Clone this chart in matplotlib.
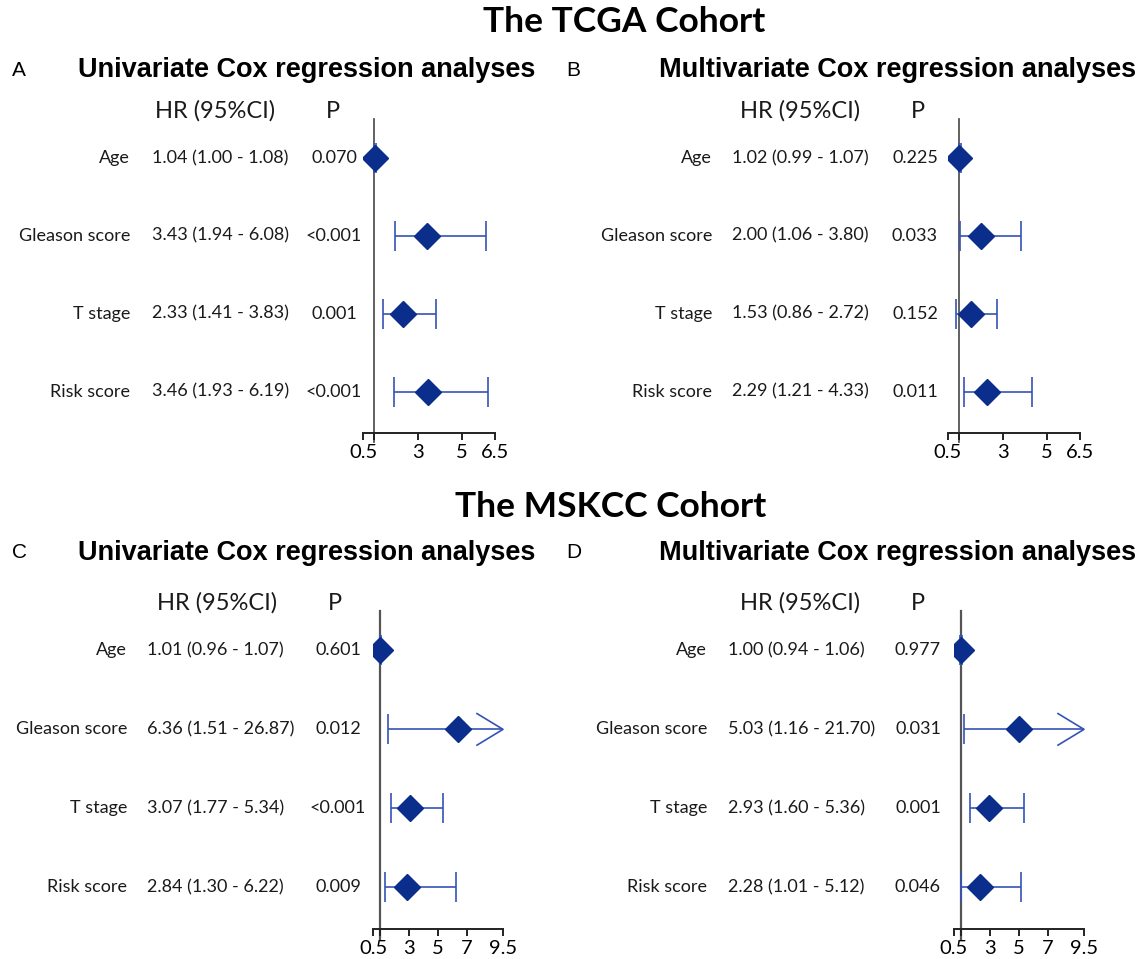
import matplotlib
matplotlib.use("Agg")
import matplotlib.pyplot as plt
from matplotlib import transforms

plt.rcParams['font.family'] = ['Lato', 'DejaVu Sans']

W, H = 1144, 959

variables = ["Age", "Gleason score", "T stage", "Risk score"]

# TCGA cohort
tcga_uni_hr = [1.04, 3.43, 2.33, 3.46]
tcga_uni_lo = [1.00, 1.94, 1.41, 1.93]
tcga_uni_hi = [1.08, 6.08, 3.83, 6.19]
tcga_uni_p = ["0.070", "<0.001", "0.001", "<0.001"]

tcga_multi_hr = [1.02, 2.00, 1.53, 2.29]
tcga_multi_lo = [0.99, 1.06, 0.86, 1.21]
tcga_multi_hi = [1.07, 3.80, 2.72, 4.33]
tcga_multi_p = ["0.225", "0.033", "0.152", "0.011"]

# MSKCC cohort
mskcc_uni_hr = [1.01, 6.36, 3.07, 2.84]
mskcc_uni_lo = [0.96, 1.51, 1.77, 1.30]
mskcc_uni_hi = [1.07, 26.87, 5.34, 6.22]
mskcc_uni_p = ["0.601", "0.012", "<0.001", "0.009"]

mskcc_multi_hr = [1.00, 5.03, 2.93, 2.28]
mskcc_multi_lo = [0.94, 1.16, 1.60, 1.01]
mskcc_multi_hi = [1.06, 21.70, 5.36, 5.12]
mskcc_multi_p = ["0.977", "0.031", "0.001", "0.046"]

tcga_ticks = [0.5, 1, 3, 5, 6.5]
tcga_ticklabels = ["0.5", "", "3", "5", "6.5"]
mskcc_ticks = [0.5, 1, 3, 5, 7, 9.5]
mskcc_ticklabels = ["0.5", "", "3", "5", "7", "9.5"]

NAVY = "#0b2d8b"
BLUE = "#3553b5"
SANS = ["Liberation Sans", "DejaVu Sans"]


def px(x):
    return x / W


def forest(fig, box, hr, lo, hi, pvals, ticks, ticklabels, cols, ref_lw=1.3):
    # box = (left px, top px, right px, bottom px) of the plotting area
    x0, y0, x1, y1 = box
    ax = fig.add_axes([px(x0), 1 - y1 / H, px(x1 - x0), (y1 - y0) / H])
    xmin, xmax = ticks[0], ticks[-1]
    rows = list(range(len(hr)))

    ax.axvline(1, color="#555555", lw=ref_lw, zorder=1, ymin=-0.03, clip_on=False)
    err_lo = [h - l for h, l in zip(hr, lo)]
    err_hi = [u - h for h, u in zip(hr, hi)]
    ax.errorbar(hr, rows, xerr=[err_lo, err_hi], fmt="none", ecolor=BLUE,
                elinewidth=1.2, capsize=10.5, capthick=1.2, zorder=2)
    ax.plot(hr, rows, ls="none", marker="D", ms=13, color=NAVY, zorder=3)

    # open arrow for intervals running past the axis
    for i in rows:
        if hi[i] > xmax:
            ax.plot([xmax - 1.8, xmax, xmax - 1.8], [i - 0.2, i, i + 0.2],
                    color=BLUE, lw=1.2, clip_on=False, zorder=2)

    ax.set_xlim(xmin, xmax)
    ax.set_ylim(3.53, -0.5)
    for s in ["left", "right", "top"]:
        ax.spines[s].set_visible(False)
    ax.spines["bottom"].set_linewidth(1.4)
    ax.spines["bottom"].set_color("#222222")
    ax.set_yticks([])
    ax.set_xticks(ticks)
    ax.set_xticklabels(ticklabels)
    ax.tick_params(axis="x", direction="out", length=5, width=1.4,
                   color="#222222", labelsize=14.5, pad=3)

    lab_r, val_l, p_c, hr_c, ph_c = cols
    tr = transforms.blended_transform_factory(fig.transFigure, ax.transData)
    for i in rows:
        ax.text(px(lab_r), i, variables[i], transform=tr, ha="right",
                va="center", fontsize=13, color="#1a1a1a")
        txt = f"{hr[i]:.2f} ({lo[i]:.2f} - {hi[i]:.2f})"
        ax.text(px(val_l), i, txt, transform=tr, ha="left", va="center",
                fontsize=13, color="#1a1a1a")
        ax.text(px(p_c), i, pvals[i], transform=tr, ha="center",
                va="center", fontsize=13, color="#1a1a1a")
    ax.text(px(hr_c), -0.6, "HR (95%CI)", transform=tr, ha="center",
            va="center", fontsize=17, color="#1a1a1a")
    ax.text(px(ph_c), -0.6, "P", transform=tr, ha="center",
            va="center", fontsize=17, color="#1a1a1a")
    return ax


fig = plt.figure(figsize=(W / 100, H / 100), dpi=100)

fig.text(px(624), 1 - 22 / H, "The TCGA Cohort", ha="center", va="center",
         fontsize=25.5, fontweight="bold")
fig.text(px(611), 1 - 507 / H, "The MSKCC Cohort", ha="center", va="center",
         fontsize=25.5, fontweight="bold")

panels = [
    ("A", "Univariate Cox regression analyses", 12, 307, 70),
    ("B", "Multivariate Cox regression analyses", 566, 898, 70),
    ("C", "Univariate Cox regression analyses", 12, 307, 553),
    ("D", "Multivariate Cox regression analyses", 566, 898, 553),
]
for letter, title, lx, tx, ty in panels:
    fig.text(px(lx), 1 - ty / H, letter, ha="left", va="center",
             fontsize=15, family=SANS)
    fig.text(px(tx), 1 - ty / H, title, ha="center", va="center",
             fontsize=19.5, fontweight="bold", family=SANS)

forest(fig, (363, 119, 495, 433), tcga_uni_hr, tcga_uni_lo, tcga_uni_hi,
       tcga_uni_p, tcga_ticks, tcga_ticklabels, (130, 152, 334, 215, 333))
forest(fig, (948, 119, 1080, 433), tcga_multi_hr, tcga_multi_lo, tcga_multi_hi,
       tcga_multi_p, tcga_ticks, tcga_ticklabels, (712, 732, 915, 800, 918))
forest(fig, (373, 611, 503, 929), mskcc_uni_hr, mskcc_uni_lo, mskcc_uni_hi,
       mskcc_uni_p, mskcc_ticks, mskcc_ticklabels, (127, 147, 338, 217, 335),
       ref_lw=1.6)
forest(fig, (954, 611, 1084, 929), mskcc_multi_hr, mskcc_multi_lo,
       mskcc_multi_hi, mskcc_multi_p, mskcc_ticks, mskcc_ticklabels,
       (707, 728, 918, 800, 918), ref_lw=1.6)

fig.savefig("out.png", dpi=100)
